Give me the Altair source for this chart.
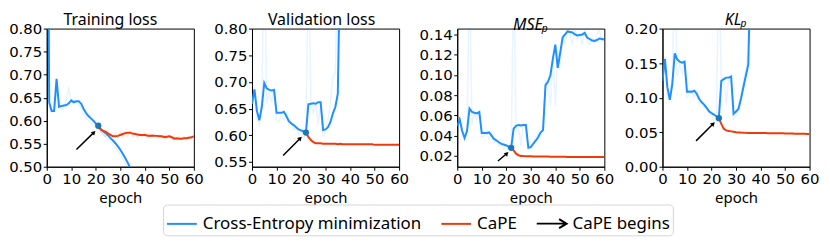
import altair as alt
import pandas as pd

BLUE = "#1e90ff"
RED = "#f03a0c"
DOT = "#1f77b4"

panel_titles = ["Training loss", "Validation loss", "MSEₚ", "KLₚ"]
title_styles = ["normal", "normal", "italic", "italic"]
title_dx = [-10, -4, 0, 0]
series_names = ["Cross-Entropy minimization", "CaPE", "CaPE begins"]
cape_start = [21, 22, 22, 23]

y_domains = [[0.50, 0.80], [0.541, 0.80], [0.0093, 0.1458], [0.0, 0.20]]
y_ticks = [
    [0.50, 0.55, 0.60, 0.65, 0.70, 0.75, 0.80],
    [0.55, 0.60, 0.65, 0.70, 0.75, 0.80],
    [0.02, 0.04, 0.06, 0.08, 0.10, 0.12, 0.14],
    [0.00, 0.05, 0.10, 0.15, 0.20],
]
x_ticks = [0, 10, 20, 30, 40, 50, 60]

# Training loss
train_ce = [1.5, 0.640, 0.621, 0.621, 0.691, 0.630, 0.632, 0.633, 0.634, 0.638, 0.644, 0.640, 0.642,
            0.642, 0.637, 0.626, 0.617, 0.610, 0.605, 0.600, 0.594, 0.589, 0.582, 0.577, 0.573, 0.568,
            0.562, 0.557, 0.551, 0.544, 0.537, 0.528, 0.519, 0.509, 0.498, 0.486]
train_ce_raw = [1.5, 0.630, 0.618, 0.626, 0.662, 0.645, 0.624, 0.630, 0.646, 0.673, 0.640, 0.645, 0.639,
                0.636, 0.627, 0.614, 0.606, 0.601, 0.596, 0.588, 0.584, 0.583, 0.576, 0.570, 0.565, 0.560,
                0.554, 0.548, 0.541, 0.534, 0.526, 0.517, 0.507, 0.496, 0.484, 0.472]
train_cape = [0.589, 0.581, 0.578, 0.576, 0.572, 0.569, 0.566, 0.566, 0.567, 0.569, 0.571, 0.573, 0.574,
              0.574, 0.572, 0.571, 0.570, 0.569, 0.569, 0.569, 0.568, 0.567, 0.568, 0.567, 0.567, 0.566,
              0.566, 0.564, 0.565, 0.566, 0.564, 0.561, 0.562, 0.561, 0.561, 0.562, 0.562, 0.563, 0.564, 0.566]
train_cape_raw = [0.589, 0.576, 0.571, 0.565, 0.578, 0.562, 0.566, 0.573, 0.563, 0.576, 0.565, 0.575, 0.566,
                  0.577, 0.565, 0.573, 0.564, 0.572, 0.566, 0.573, 0.563, 0.571, 0.565, 0.571, 0.563, 0.570,
                  0.562, 0.568, 0.561, 0.569, 0.560, 0.565, 0.558, 0.566, 0.559, 0.565, 0.560, 0.566, 0.561, 0.568]

# Validation loss
val_ce = [0.659, 0.686, 0.646, 0.628, 0.653, 0.698, 0.688, 0.685, 0.684, 0.685, 0.642, 0.642, 0.642,
          0.644, 0.636, 0.627, 0.622, 0.619, 0.615, 0.611, 0.609, 0.607, 0.605, 0.658, 0.659, 0.660,
          0.659, 0.662, 0.662, 0.610, 0.611, 0.615, 0.625, 0.641, 0.653, 0.678, 0.950]
val_ce_raw = [0.640, 0.690, 0.630, 0.620, 0.662, 0.950, 0.660, 0.680, 0.662, 0.690, 0.628, 0.625, 0.640,
              0.630, 0.640, 0.620, 0.625, 0.610, 0.615, 0.600, 0.605, 0.595, 0.600, 0.950, 0.660, 0.640,
              0.660, 0.620, 0.660, 0.598, 0.610, 0.630, 0.660, 0.710, 0.715, 0.950, 0.980]
val_cape = [0.605, 0.597, 0.591, 0.587, 0.585, 0.585, 0.585, 0.584, 0.584, 0.584, 0.584, 0.584, 0.584,
            0.583, 0.584, 0.583, 0.583, 0.583, 0.583, 0.583, 0.583, 0.583, 0.583, 0.583, 0.583, 0.583,
            0.583, 0.583, 0.582, 0.582, 0.582, 0.582, 0.582, 0.582, 0.582, 0.582, 0.582, 0.582, 0.582]

# MSE_p
mse_ce = [0.0497, 0.0560, 0.0448, 0.0377, 0.0448, 0.0668, 0.0635, 0.0626, 0.0619, 0.0632, 0.0426, 0.0426,
          0.0426, 0.0432, 0.0400, 0.0368, 0.0352, 0.0335, 0.0319, 0.0313, 0.0303, 0.0290, 0.0280, 0.0470,
          0.0497, 0.0506, 0.0500, 0.0506, 0.0506, 0.0280, 0.0287, 0.0320, 0.0350, 0.0384, 0.0430, 0.0455,
          0.0900, 0.0932, 0.0997, 0.1158, 0.1300, 0.1070, 0.1220, 0.1370, 0.1400, 0.1430, 0.1425, 0.1420,
          0.1400, 0.1390, 0.1395, 0.1400, 0.1415, 0.1370, 0.1355, 0.1340, 0.1335, 0.1345, 0.1360, 0.1355, 0.1350]
mse_ce_raw = [0.050, 0.058, 0.040, 0.036, 0.050, 0.200, 0.050, 0.062, 0.055, 0.066, 0.038, 0.040, 0.045,
              0.036, 0.042, 0.033, 0.036, 0.030, 0.033, 0.027, 0.031, 0.026, 0.028, 0.200, 0.045, 0.050,
              0.030, 0.052, 0.045, 0.027, 0.030, 0.035, 0.038, 0.042, 0.047, 0.050, 0.095, 0.090, 0.070,
              0.120, 0.070, 0.125, 0.110, 0.140, 0.130, 0.145, 0.140, 0.130, 0.145, 0.135, 0.140, 0.130,
              0.145, 0.135, 0.130, 0.138, 0.132, 0.140, 0.145, 0.133, 0.137]
mse_cape = [0.0280, 0.0255, 0.0222, 0.0206, 0.0200, 0.0198, 0.0197, 0.0196, 0.0196, 0.0195, 0.0195, 0.0194,
            0.0194, 0.0193, 0.0193, 0.0193, 0.0192, 0.0192, 0.0192, 0.0192, 0.0191, 0.0191, 0.0191, 0.0190,
            0.0190, 0.0190, 0.0190, 0.0189, 0.0189, 0.0189, 0.0189, 0.0189, 0.0188, 0.0188, 0.0188, 0.0188,
            0.0188, 0.0188, 0.0188]

# KL_p
kl_ce = [0.1244, 0.1560, 0.1148, 0.0967, 0.1196, 0.1640, 0.1555, 0.1520, 0.1507, 0.1520, 0.1086, 0.1090,
         0.1086, 0.1100, 0.1053, 0.0980, 0.0933, 0.0900, 0.0852, 0.0804, 0.0775, 0.0756, 0.0727, 0.0703,
         0.1244, 0.1268, 0.1290, 0.1290, 0.1306, 0.0766, 0.0800, 0.0837, 0.0980, 0.1150, 0.1316, 0.1480, 0.3000]
kl_ce_raw = [0.120, 0.160, 0.100, 0.095, 0.130, 0.300, 0.130, 0.150, 0.135, 0.155, 0.100, 0.105, 0.110,
             0.100, 0.112, 0.090, 0.095, 0.085, 0.088, 0.075, 0.080, 0.062, 0.070, 0.300, 0.120, 0.130,
             0.090, 0.130, 0.120, 0.070, 0.075, 0.090, 0.105, 0.125, 0.140, 0.170, 0.300]
kl_cape = [0.0703, 0.0620, 0.0550, 0.0526, 0.0518, 0.0512, 0.0506, 0.0500, 0.0497, 0.0494, 0.0492, 0.0490,
           0.0488, 0.0488, 0.0488, 0.0487, 0.0488, 0.0488, 0.0488, 0.0487, 0.0486, 0.0486, 0.0485, 0.0485,
           0.0484, 0.0483, 0.0483, 0.0482, 0.0481, 0.0480, 0.0480, 0.0479, 0.0478, 0.0478, 0.0477, 0.0476,
           0.0475, 0.0474]

ce_all = [train_ce, val_ce, mse_ce, kl_ce]
ce_raw_all = [train_ce_raw, val_ce_raw, mse_ce_raw, kl_ce_raw]
cape_all = [train_cape, val_cape, mse_cape, kl_cape]
cape_raw_all = [train_cape_raw, None, None, None]

# annotation arrow (tail -> head) in data units, per panel
arrow_tail = [(12.1, 0.5376), (12.7, 0.562), (16.6, 0.0150), (13.7, 0.0374)]
arrow_head = [(19.25, 0.5746), (19.7, 0.5945), (20.25, 0.0224), (20.7, 0.0622)]

ARROW_PATH = "M-1,0L1,0M0.5,-0.3L1,0L0.5,0.3"


def frame(values, start, name):
    return pd.DataFrame({"epoch": list(range(start, start + len(values))),
                         "value": values, "series": name})


legend_def = alt.Legend(
    orient="none", legendX=117, legendY=177, direction="horizontal",
    symbolStrokeWidth=2, symbolSize=900, symbolOpacity=1,
    labelFont="Noto Sans", labelFontSize=17, labelColor="black", labelOffset=5, labelLimit=400,
    columnPadding=15, padding=3, strokeColor="#d6d6d6", cornerRadius=4, fillColor="white",
)
color_enc = alt.Color("series:N", scale=alt.Scale(domain=series_names, range=[BLUE, RED, "black"]),
                      title=None, legend=legend_def)
shape_enc = alt.Shape("series:N", scale=alt.Scale(domain=series_names,
                                                  range=["stroke", "stroke", ARROW_PATH]),
                      title=None, legend=legend_def)


def panel(i):
    xs = alt.Scale(domain=[0, 60], nice=False, zero=False)
    ys = alt.Scale(domain=y_domains[i], nice=False, zero=False)
    xax = alt.Axis(values=x_ticks, title="epoch", labelFlush=False)
    yax = alt.Axis(values=y_ticks[i], format=".2f", title=None, labelFlush=False)
    X = lambda f: alt.X(f"{f}:Q", scale=xs, axis=xax, title="epoch")
    Y = lambda f: alt.Y(f"{f}:Q", scale=ys, axis=yax, title=None)

    layers = []
    # legend carrier (draws nothing: all rows filtered out)
    layers.append(alt.Chart(frame(ce_all[i], 0, series_names[0])).transform_filter("false").mark_point(
        filled=False, strokeWidth=2).encode(x=X("epoch"), y=Y("value"),
                                            color=color_enc, shape=shape_enc))
    layers.append(alt.Chart(frame(ce_raw_all[i], 0, series_names[0])).mark_line(
        color=BLUE, opacity=0.1, strokeWidth=1.5, clip=True).encode(x=X("epoch"), y=Y("value")))
    if cape_raw_all[i] is not None:
        layers.append(alt.Chart(frame(cape_raw_all[i], cape_start[i], series_names[1])).mark_line(
            color=RED, opacity=0.12, strokeWidth=1.5, clip=True).encode(x=X("epoch"), y=Y("value")))
    layers.append(alt.Chart(frame(ce_all[i], 0, series_names[0])).mark_line(
        strokeWidth=2, clip=True).encode(x=X("epoch"), y=Y("value"), color=color_enc))
    layers.append(alt.Chart(frame(cape_all[i], cape_start[i], series_names[1])).mark_line(
        strokeWidth=2, clip=True).encode(x=X("epoch"), y=Y("value"), color=color_enc))
    dot = pd.DataFrame({"epoch": [cape_start[i]], "value": [cape_all[i][0]]})
    layers.append(alt.Chart(dot).mark_circle(size=40, color=DOT, opacity=1, clip=True).encode(
        x=X("epoch"), y=Y("value")))
    arr = pd.DataFrame({"epoch": [arrow_tail[i][0]], "value": [arrow_tail[i][1]],
                        "epoch2": [arrow_head[i][0]], "value2": [arrow_head[i][1]]})
    layers.append(alt.Chart(arr).mark_rule(color="black", strokeWidth=1.5).encode(
        x=X("epoch"), y=Y("value"), x2="epoch2:Q", y2="value2:Q"))
    layers.append(alt.Chart(arr).mark_point(shape="triangle-up", filled=True, size=24, angle=45,
                                            color="black", opacity=1).encode(
        x=X("epoch2"), y=Y("value2")))

    return alt.layer(*layers).properties(
        width=148, height=139,
        title=alt.TitleParams(panel_titles[i], font="Noto Sans", fontSize=16, fontWeight="normal",
                              fontStyle=title_styles[i], color="black", offset=-6, dx=title_dx[i]),
    )


chart = alt.hconcat(*[panel(i) for i in range(4)], spacing=58.5, bounds="flush").resolve_scale(
    x="independent", y="independent", color="shared", shape="shared"
).properties(padding={"left": 0, "top": 2, "right": 2, "bottom": 0}, background="white").configure_view(
    stroke="black", strokeWidth=1
).configure_axis(
    domainColor="black", tickColor="black", tickSize=3.5, tickWidth=1, domainWidth=1,
    labelFont="DejaVu Sans", labelFontSize=15, labelColor="black", labelPadding=1.5,
    titleFont="Noto Sans", titleFontSize=15, titleFontWeight="normal", titleColor="black", titlePadding=4,
    grid=False, labelOverlap=False
)

chart.save("out.html", embed_options={"renderer": "svg", "actions": False})
